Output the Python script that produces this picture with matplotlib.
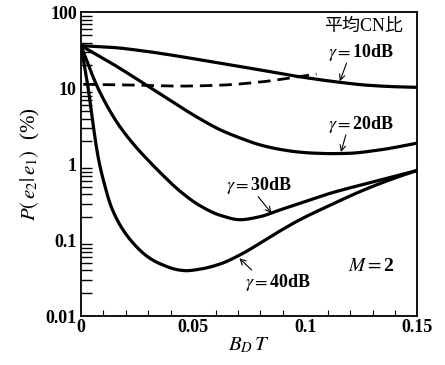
import numpy as np
import matplotlib
matplotlib.use('Agg')
import matplotlib.pyplot as plt
from matplotlib.ticker import FixedLocator, NullFormatter

plt.rcParams['font.family'] = ['Liberation Serif', 'Noto Sans CJK JP']
plt.rcParams['mathtext.fontset'] = 'stix'

# curves (x = B_D T, y = P(e2|e1) in %)
x10 = [0, 0.0135, 0.0284, 0.0441, 0.062, 0.0798, 0.0969, 0.1154, 0.1274, 0.14, 0.15]
y10 = [36.5, 34.7, 30.9, 26.3, 21.4, 17.5, 14.3, 12.0, 11.0, 10.5, 10.3]

xdash = [0.001, 0.02, 0.0441, 0.062, 0.0798, 0.0969, 0.105]
ydash = [11.3, 11.1, 10.7, 11.0, 12.1, 14.2, 15.4]

x20 = [0, 0.0135, 0.0284, 0.0441, 0.053, 0.062, 0.0709, 0.0798, 0.0887, 0.0969, 0.1038, 0.112, 0.1187,
       0.1335, 0.15]
y20 = [36.5, 21.5, 11.4, 5.74, 3.97, 2.85, 2.22, 1.80, 1.57, 1.45, 1.40, 1.38, 1.39,
       1.55, 1.90]

x30 = [0, 0.0076, 0.0165, 0.0247, 0.0284, 0.0373, 0.0441, 0.053, 0.062, 0.0709, 0.0798, 0.0887, 0.0976,
       0.1112, 0.1335, 0.15]
y30 = [36.5, 10.0, 3.4, 1.66, 1.26, 0.68, 0.443, 0.285, 0.213, 0.186, 0.204, 0.25, 0.306,
       0.415, 0.62, 0.83]

x40 = [0, 0.0031, 0.0053, 0.0076, 0.0106, 0.0135, 0.018, 0.0239, 0.0299, 0.0345, 0.0441, 0.047, 0.053,
       0.062, 0.0709, 0.0798, 0.0887, 0.0976, 0.111, 0.126, 0.141, 0.15]
y40 = [36.5, 10.5, 3.5, 1.26, 0.525, 0.275, 0.148, 0.087, 0.060, 0.050, 0.0403, 0.0396, 0.0415,
       0.0485, 0.064, 0.091, 0.132, 0.186, 0.288, 0.457, 0.676, 0.83]


def smooth(xs, ys, n=400):
    xs = np.array(xs)
    ly = np.log10(np.array(ys))
    xx = np.linspace(xs[0], xs[-1], n)
    # monotone cubic (PCHIP) in log space
    h = np.diff(xs)
    d = np.diff(ly) / h
    m = np.zeros(len(xs))
    m[0], m[-1] = d[0], d[-1]
    for i in range(1, len(xs) - 1):
        if d[i - 1] * d[i] > 0:
            w1 = 2 * h[i] + h[i - 1]
            w2 = h[i] + 2 * h[i - 1]
            m[i] = (w1 + w2) / (w1 / d[i - 1] + w2 / d[i])
    idx = np.clip(np.searchsorted(xs, xx) - 1, 0, len(xs) - 2)
    t = (xx - xs[idx]) / h[idx]
    h00 = 2 * t**3 - 3 * t**2 + 1
    h10 = t**3 - 2 * t**2 + t
    h01 = -2 * t**3 + 3 * t**2
    h11 = t**3 - t**2
    yy = h00 * ly[idx] + h10 * h[idx] * m[idx] + h01 * ly[idx + 1] + h11 * h[idx] * m[idx + 1]
    return xx, 10 ** yy


fig = plt.figure(figsize=(4.45, 3.65), dpi=100)
ax = fig.add_axes([0.182, 0.134, 0.756, 0.832])

for xs, ys in [(x10, y10), (x20, y20), (x30, y30), (x40, y40)]:
    xx, yy = smooth(xs, ys)
    ax.plot(xx, yy, color='black', lw=2.3, solid_capstyle='round')
xx, yy = smooth(xdash, ydash)
ax.plot(xx, yy, color='black', lw=2.0, dashes=(4.5, 2.5))

ax.set_yscale('log')
ax.set_xlim(0, 0.15)
ax.set_ylim(0.01, 100)

ax.set_yticks([0.01, 0.1, 1, 10, 100])
ax.set_yticklabels(['0.01', '0.1', '1', '10', '100'], fontweight='bold', fontsize=13)
minors = [k * 10.0**e for e in range(-2, 2) for k in range(2, 10)]
ax.yaxis.set_minor_locator(FixedLocator(minors))
ax.yaxis.set_minor_formatter(NullFormatter())
ax.set_xticks([0, 0.05, 0.1, 0.15])
ax.set_xticklabels(['0', '0.05', '0.1', '0.15'], fontweight='bold', fontsize=13)
ax.xaxis.set_minor_locator(FixedLocator(np.arange(0.01, 0.15, 0.01)))
ax.tick_params(axis='y', which='both', direction='in', length=8, width=1, right=False)
ax.tick_params(axis='y', which='major', length=0, pad=3)
ax.tick_params(axis='x', which='both', direction='in', length=4, width=0.8, top=False)
ax.tick_params(axis='x', which='major', length=0, pad=2)
for s in ax.spines.values():
    s.set_linewidth(1.3)

ax.set_xlabel(r'$B_D\,T$', fontsize=15, labelpad=0)
ax.set_ylabel(r'$P(\,e_2|\,e_1)$  (%)', fontsize=15, labelpad=3)

ax.text(0.1435, 66, '平均CN比', fontsize=13, ha='right', va='center')

arrow = dict(arrowstyle='->', color='black', lw=0.8, shrinkA=0, shrinkB=0)
labels = [
    (r'$\gamma$$=$10dB', (0.125, 29.3), (0.1184, 21.4), (0.1154, 12.4)),
    (r'$\gamma$$=$20dB', (0.125, 3.3), (0.1181, 2.43), (0.1159, 1.45)),
    (r'$\gamma$$=$30dB', (0.0796, 0.53), (0.079, 0.374), (0.085, 0.226)),
    (r'$\gamma$$=$40dB', (0.088, 0.0281), (0.0761, 0.0405), (0.0706, 0.0578)),
]
for txt, tpos, start, end in labels:
    ax.text(tpos[0], tpos[1], txt, fontsize=13, fontweight='bold', ha='center', va='center')
    ax.annotate('', xy=end, xytext=start, arrowprops=arrow)
ax.text(0.1295, 0.0444, r'$M$$=$2', fontsize=14, fontweight='bold', ha='center', va='center')

fig.savefig('out.png', dpi=100)
